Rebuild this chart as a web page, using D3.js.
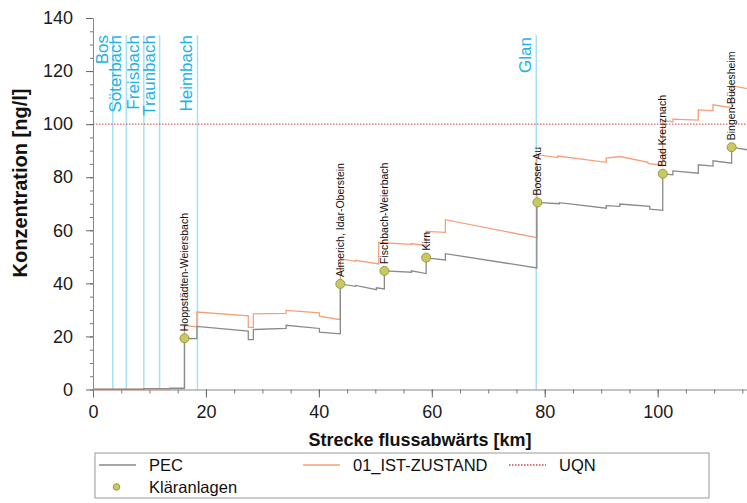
<!DOCTYPE html>
<html>
<head>
<meta charset="utf-8">
<script src="https://cdn.jsdelivr.net/npm/d3@7"></script>
<style>
  body { margin: 0; background: #fff; }
  svg { display: block; font-family: "Liberation Sans", Arial, sans-serif; }
</style>
</head>
<body>
<svg id="chart"></svg>
<script>
// Chart data
const xTicks = [0, 20, 40, 60, 80, 100];
const yTicks = [0, 20, 40, 60, 80, 100, 120, 140];
const uqnValue = 100;

const tributaryNames = ['Bos', 'Söterbach', 'Freisbach', 'Traunbach', 'Heimbach', 'Glan'];
const tributaryKm = [3.5, 5.9, 9.0, 11.8, 18.5, 78.5];

const plantNames = ['Hoppstädten-Weiersbach', 'Almerich, Idar-Oberstein', 'Fischbach-Weierbach',
  'Kirn', 'Booser Au', 'Bad Kreuznach', 'Bingen-Büdesheim'];
const plantKm = [16.2, 43.8, 51.6, 59.0, 78.7, 100.9, 113.1];
const plantValue = [19.3, 39.8, 44.7, 49.7, 70.5, 81.3, 91.3];

// PEC [km, ng/l]
const pecPoints = [
  [0, 0.1], [9.0, 0.1], [9.0, 0.3], [16.2, 0.3], [16.2, 19.3], [18.4, 19.2], [18.4, 23.8],
  [27.5, 22.0], [27.5, 18.8], [28.4, 18.8], [28.4, 22.6], [34.2, 23.0], [34.2, 24.2],
  [40.1, 23.0], [40.1, 21.6], [43.8, 21.0], [43.8, 39.8], [46.5, 38.9], [46.5, 39.2],
  [50.2, 37.6], [50.2, 38.3], [51.6, 37.9], [51.6, 44.7], [56.4, 44.2], [56.4, 44.7],
  [59.0, 43.7], [59.0, 49.6], [62.4, 48.8], [62.4, 51.2], [78.6, 45.8], [78.6, 70.5],
  [82.6, 70.0], [82.6, 70.4], [90.9, 68.3], [90.9, 69.3], [93.3, 69.0], [93.3, 69.9],
  [98.6, 69.0], [98.6, 68.0], [100.9, 67.5], [100.9, 81.3], [102.7, 80.9], [102.7, 82.4],
  [107.2, 81.5], [107.2, 84.7], [109.8, 84.2], [109.8, 86.2], [113.1, 85.3], [113.1, 91.3],
  [116, 90.3]
];

// 01_IST-ZUSTAND [km, ng/l]
const istPoints = [
  [0, 0], [13.6, 0], [13.6, 0.6], [16.2, 0.6], [16.2, 24.1], [18.4, 23.6], [18.4, 29.2],
  [27.5, 27.8], [27.5, 23.4], [28.4, 23.4], [28.4, 28.5], [34.2, 28.7], [34.2, 29.8],
  [40.1, 28.9], [40.1, 27.6], [43.8, 26.3], [43.8, 49.2], [46.5, 48.3], [46.5, 48.7],
  [50.6, 47.3], [50.6, 55.4], [56.4, 54.7], [56.4, 55.0], [59.0, 54.2], [59.0, 59.6],
  [62.4, 59.2], [62.4, 64.0], [78.6, 57.2], [78.6, 88.5], [82.3, 87.4], [82.3, 88.0],
  [90.9, 85.6], [90.9, 87.2], [93.3, 87.8], [98.3, 85.6], [98.3, 85.1], [100.9, 84.6],
  [100.9, 101.3], [102.7, 100.9], [102.7, 101.9], [107.2, 101.5], [107.2, 105.4],
  [109.8, 105.1], [109.8, 107.3], [113.1, 106.2], [113.1, 114.5], [116, 113.3]
];

const width = 747;
const height = 503;

const x = d3.scaleLinear([0, 116], [93, 748]);
const y = d3.scaleLinear([0, 140], [389.5, 18]);

const svg = d3.select('#chart')
  .attr('width', width)
  .attr('height', height)
  .attr('viewBox', [0, 0, width, height]);

// Tributary lines + labels
const trib = svg.append('g');
trib.selectAll('line')
  .data(tributaryKm)
  .join('line')
    .attr('x1', d => x(d)).attr('x2', d => x(d))
    .attr('y1', y(133.5)).attr('y2', y(0))
    .attr('stroke', '#a4e2f2')
    .attr('stroke-width', 1.5);
trib.selectAll('text')
  .data(tributaryKm)
  .join('text')
    .attr('transform', (d, i) => `translate(${x(d) - 5},${i === 5 ? 37 : 35}) rotate(-90)`)
    .attr('text-anchor', 'end')
    .attr('font-size', 17)
    .attr('fill', '#20b2e8')
    .text((d, i) => tributaryNames[i]);

// Y axis (minor + major)
svg.append('g')
  .attr('transform', `translate(${x(0)},0)`)
  .call(d3.axisLeft(y).tickValues(d3.range(0, 141, 5)).tickSize(3).tickFormat('').tickSizeOuter(0))
  .call(g => g.select('.domain').attr('stroke', '#888'))
  .call(g => g.selectAll('.tick line').attr('stroke', '#777'));
svg.append('g')
  .attr('transform', `translate(${x(0)},0)`)
  .call(d3.axisLeft(y).tickValues(yTicks).tickSize(7).tickPadding(13).tickSizeOuter(0))
  .call(g => g.select('.domain').remove())
  .call(g => g.selectAll('.tick line').attr('stroke', '#666'))
  .call(g => g.selectAll('.tick text')
    .attr('font-size', 18)
    .attr('font-family', '"Liberation Sans", Arial, sans-serif')
    .attr('fill', '#1a1a1a'));

// X axis (minor + major)
svg.append('g')
  .attr('transform', `translate(0,${y(0)})`)
  .call(d3.axisBottom(x).tickValues(d3.range(0, 116, 5)).tickSize(4).tickFormat('').tickSizeOuter(0))
  .call(g => g.select('.domain').attr('stroke', '#888'))
  .call(g => g.selectAll('.tick line').attr('stroke', '#777'));
svg.append('g')
  .attr('transform', `translate(0,${y(0)})`)
  .call(d3.axisBottom(x).tickValues(xTicks).tickSize(8).tickPadding(8).tickSizeOuter(0))
  .call(g => g.select('.domain').remove())
  .call(g => g.selectAll('.tick line').attr('stroke', '#666'))
  .call(g => g.selectAll('.tick text')
    .attr('font-size', 18)
    .attr('font-family', '"Liberation Sans", Arial, sans-serif')
    .attr('fill', '#1a1a1a'));

// Axis titles
svg.append('text')
  .attr('x', 420).attr('y', 446)
  .attr('text-anchor', 'middle')
  .attr('font-size', 18)
  .attr('font-weight', 'bold')
  .attr('fill', '#111')
  .text('Strecke flussabwärts [km]');

svg.append('text')
  .attr('transform', 'translate(27,183) rotate(-90)')
  .attr('text-anchor', 'middle')
  .attr('font-size', 20)
  .attr('font-weight', 'bold')
  .attr('fill', '#111')
  .text('Konzentration [ng/l]');

// UQN
svg.append('line')
  .attr('x1', x(0)).attr('x2', x(116))
  .attr('y1', y(uqnValue)).attr('y2', y(uqnValue))
  .attr('stroke', '#c8464a')
  .attr('stroke-width', 1)
  .attr('stroke-dasharray', '1.5,1.5');

// Lines
const line = d3.line().x(d => x(d[0])).y(d => y(d[1]));

svg.append('path')
  .datum(istPoints)
  .attr('d', line)
  .attr('fill', 'none')
  .attr('stroke', '#f5a078')
  .attr('stroke-width', 1.3);

svg.append('path')
  .datum(pecPoints)
  .attr('d', line)
  .attr('fill', 'none')
  .attr('stroke', '#8a8a8a')
  .attr('stroke-width', 1.3);

// Plants
const plants = svg.append('g');
plants.selectAll('circle')
  .data(plantKm)
  .join('circle')
    .attr('cx', d => x(d))
    .attr('cy', (d, i) => y(plantValue[i]))
    .attr('r', 4.5)
    .attr('fill', '#c8c864')
    .attr('stroke', '#9c9c3c')
    .attr('stroke-width', 1);
plants.selectAll('text')
  .data(plantKm)
  .join('text')
    .attr('transform', (d, i) => `translate(${x(d)},${y(plantValue[i]) - 7}) rotate(-90)`)
    .attr('dy', '0.35em')
    .attr('font-size', 10.5)
    .attr('fill', '#111')
    .text((d, i) => plantNames[i]);

// Legend
const legend = svg.append('g');
legend.append('rect')
  .attr('x', 95).attr('y', 453)
  .attr('width', 614).attr('height', 45)
  .attr('fill', 'none')
  .attr('stroke', '#999');

const legendItems = [
  {label: 'PEC', x: 99, y: 465, stroke: '#8a8a8a', dash: null},
  {label: '01_IST-ZUSTAND', x: 303, y: 465, stroke: '#f5a078', dash: null},
  {label: 'UQN', x: 509, y: 465, stroke: '#c8464a', dash: '1.5,1.5'}
];
legendItems.forEach(d => {
  legend.append('line')
    .attr('x1', d.x).attr('x2', d.x + 37)
    .attr('y1', d.y).attr('y2', d.y)
    .attr('stroke', d.stroke)
    .attr('stroke-width', 1.3)
    .attr('stroke-dasharray', d.dash);
  legend.append('text')
    .attr('x', d.x + 50).attr('y', d.y + 6)
    .attr('font-size', 16.5)
    .attr('fill', '#111')
    .text(d.label);
});
legend.append('circle')
  .attr('cx', 116.5).attr('cy', 487)
  .attr('r', 3.3)
  .attr('fill', '#c8c864')
  .attr('stroke', '#9c9c3c');
legend.append('text')
  .attr('x', 149).attr('y', 493)
  .attr('font-size', 16.5)
  .attr('fill', '#111')
  .text('Kläranlagen');
</script>
</body>
</html>
